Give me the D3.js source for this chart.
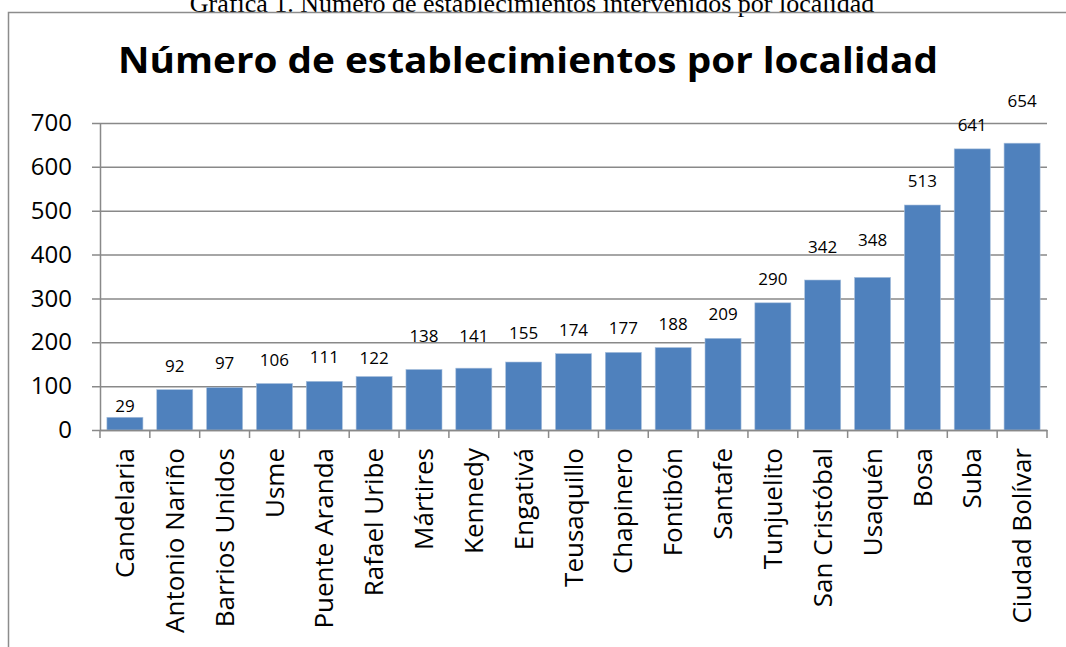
<!DOCTYPE html>
<html>
<head>
<meta charset="utf-8">
<script src="https://cdn.jsdelivr.net/npm/d3@7"></script>
<style>
  body { margin: 0; background: #fff; }
  svg { display: block; }
</style>
</head>
<body>
<div id="chart"></div>
<script>
var localidades = ["Candelaria", "Antonio Nariño", "Barrios Unidos", "Usme", "Puente Aranda",
  "Rafael Uribe", "Mártires", "Kennedy", "Engativá", "Teusaquillo", "Chapinero", "Fontibón",
  "Santafe", "Tunjuelito", "San Cristóbal", "Usaquén", "Bosa", "Suba", "Ciudad Bolívar"];
var establecimientos = [29, 92, 97, 106, 111, 122, 138, 141, 155, 174, 177, 188, 209, 290, 342, 348, 513, 641, 654];
var yTicks = [0, 100, 200, 300, 400, 500, 600, 700];

var width = 1066, height = 647;
var margin = { top: 123, right: 19, bottom: 217, left: 100 };

// some data labels were dragged by hand in the original
var labelNudge = { "Candelaria": -13, "Rafael Uribe": -6, "Mártires": 9, "Kennedy": 8,
  "Engativá": 5, "San Cristóbal": 9, "Usaquén": 13, "Ciudad Bolívar": 18 };

var svg = d3.select("#chart").append("svg")
  .attr("width", width)
  .attr("height", height);

// caption above the chart box (cut off at the top)
svg.append("text")
  .attr("x", 532).attr("y", 12)
  .attr("text-anchor", "middle")
  .style("font-family", "'Liberation Serif', 'Times New Roman', serif")
  .style("font-size", "26px")
  .text("Gráfica 1. Número de establecimientos intervenidos por localidad");

// chart box
svg.append("path")
  .attr("d", "M8.5," + height + " V12.5 H" + (width + 2))
  .attr("fill", "none")
  .attr("stroke", "#8c8c8c")
  .attr("stroke-width", 1.5);

svg.append("text")
  .attr("x", 528).attr("y", 73)
  .attr("text-anchor", "middle")
  .attr("textLength", 820)
  .attr("lengthAdjust", "spacingAndGlyphs")
  .style("font-family", "'Open Sans', sans-serif")
  .style("font-weight", "bold")
  .style("font-size", "35px")
  .text("Número de establecimientos por localidad");

var plotW = width - margin.left - margin.right;
var plotH = height - margin.top - margin.bottom;

var g = svg.append("g").attr("transform", "translate(" + margin.left + "," + margin.top + ")");

var x = d3.scaleBand().domain(localidades).range([0, plotW]).paddingInner(0.277).paddingOuter(0.1385);
var y = d3.scaleLinear().domain([0, 700]).range([plotH, 0]);

// gridlines + y axis
var yAxis = g.append("g")
  .call(d3.axisLeft(y).tickValues(yTicks).tickSize(8).tickPadding(20).tickSizeOuter(0));
yAxis.select(".domain").attr("stroke", "#898989").attr("stroke-width", 1.5);
yAxis.selectAll(".tick line").attr("stroke", "#898989").attr("stroke-width", 1.5)
  .attr("x2", plotW).attr("x1", -8);
yAxis.selectAll(".tick text")
  .style("font-family", "'Open Sans', sans-serif")
  .style("font-size", "24px")
  .attr("fill", "#000");

// bars
g.selectAll("rect.bar")
  .data(establecimientos)
  .enter()
  .append("rect")
  .attr("class", "bar")
  .attr("x", function(d, i) { return x(localidades[i]); })
  .attr("y", function(d) { return y(d); })
  .attr("width", x.bandwidth())
  .attr("height", function(d) { return plotH - y(d); })
  .attr("fill", "#4F81BD")
  .attr("stroke", "#a9c0dd")
  .attr("stroke-width", 0.6);

// data labels
g.selectAll("text.lbl")
  .data(establecimientos)
  .enter()
  .append("text")
  .attr("class", "lbl")
  .attr("x", function(d, i) { return x(localidades[i]) + x.bandwidth() / 2; })
  .attr("y", function(d, i) { return y(d) - 18 - (labelNudge[localidades[i]] || 0); })
  .attr("text-anchor", "middle")
  .style("font-family", "'Open Sans', sans-serif")
  .style("font-size", "17px")
  .text(function(d) { return d; });

// x axis
var xAxis = g.append("g")
  .attr("transform", "translate(0," + plotH + ")")
  .call(d3.axisBottom(x).tickSize(0).tickSizeOuter(0).tickPadding(0));
xAxis.select(".domain").attr("stroke", "#898989").attr("stroke-width", 1.5);
xAxis.selectAll(".tick line").remove();

// category separators
g.append("g")
  .selectAll("line")
  .data(d3.range(localidades.length + 1))
  .enter()
  .append("line")
  .attr("x1", function(i) { return i * plotW / localidades.length; })
  .attr("x2", function(i) { return i * plotW / localidades.length; })
  .attr("y1", plotH)
  .attr("y2", plotH + 8)
  .attr("stroke", "#898989")
  .attr("stroke-width", 1.5);

xAxis.selectAll(".tick text")
  .attr("transform", "translate(0,18) rotate(-90)")
  .attr("text-anchor", "end")
  .attr("dy", "0.35em")
  .attr("y", 0)
  .attr("x", 0)
  .attr("fill", "#000")
  .style("font-family", "'Open Sans', sans-serif")
  .style("font-size", "26px");
</script>
</body>
</html>
